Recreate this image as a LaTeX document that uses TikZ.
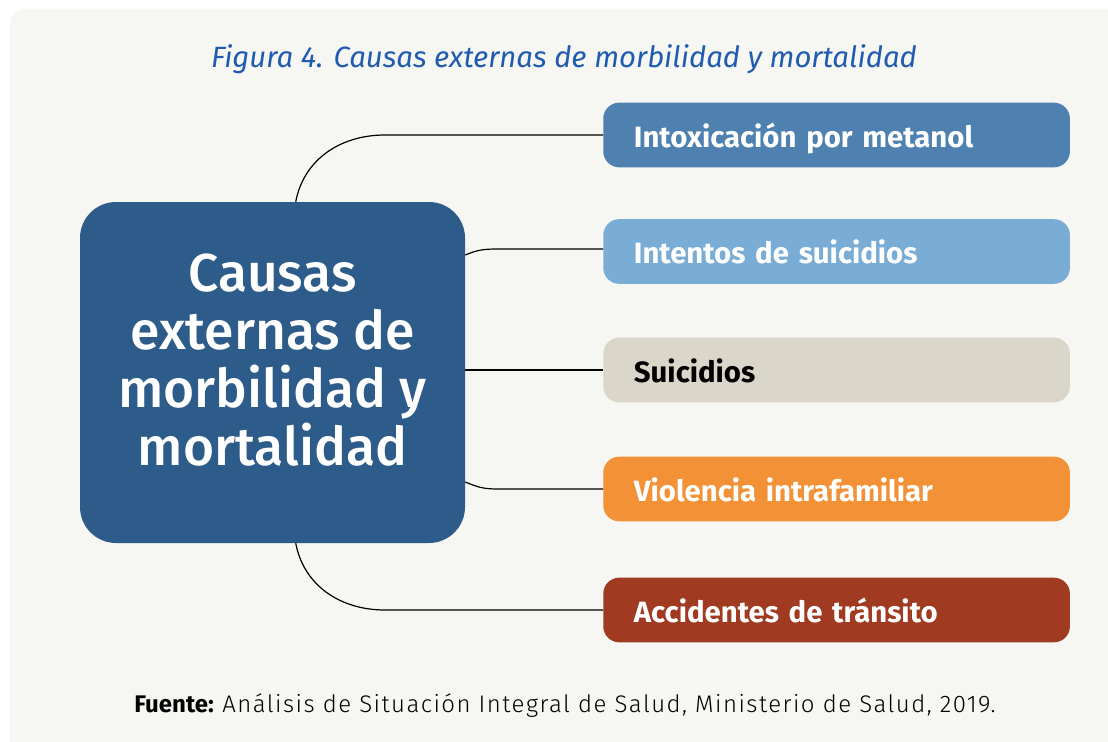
\documentclass[tikz,border=0pt]{standalone}
\usepackage{fontspec}
\setmainfont{Fira Sans}
\newfontfamily\lightfont[LetterSpace=6]{Fira Sans Light}
\newfontfamily\mediumfont{Fira Sans Medium}
\usetikzlibrary{calc}
\definecolor{panel}{HTML}{F6F6F2}
\definecolor{titleblue}{HTML}{1F5BB0}
\definecolor{mainblue}{HTML}{2E5C8A}
\definecolor{cA}{HTML}{4F81B0}
\definecolor{cB}{HTML}{79ADD6}
\definecolor{cC}{HTML}{DAD6CA}
\definecolor{cD}{HTML}{F29135}
\definecolor{cE}{HTML}{A03B22}
\tikzset{
  catbox/.style={draw=none, rounded corners=12pt, minimum height=48.5pt, minimum width=350pt,
    text width=304pt, inner xsep=23pt, text height=20.5pt, text depth=1.8pt, align=left, anchor=west, font=\fontsize{22}{26}\selectfont\bfseries, text=white},
  link/.style={draw=black, line width=0.9pt},
}
\begin{document}
\begin{tikzpicture}[x=0.75pt,y=-0.75pt]
\useasboundingbox (0,0) rectangle (1108,742);
\begin{scope}
\clip (0,0) rectangle (1108,742);
\fill[white] (0,0) rectangle (1108,742);
\fill[panel, rounded corners=11pt] (10,9) rectangle (1130,770);
\end{scope}
\node[text=titleblue, font=\fontsize{22}{26}\selectfont\itshape] (title) at (564,59) {Figura 4. Causas externas de morbilidad y mortalidad};
\node[fill=mainblue, rounded corners=27pt, minimum width=288.75pt, minimum height=255.75pt, inner sep=0pt] (m) at (272.5,372.5) {};
\node[text=white, align=center, font=\fontsize{40}{43.5}\selectfont\mediumfont] (mt) at (272.5,360) {Causas\\externas de\\morbilidad y\\mortalidad};
\node[catbox, fill=cA] (b1) at (603,135) {Intoxicación por metanol};
\node[catbox, fill=cB] (b2) at (603,251.5) {Intentos de suicidios};
\node[catbox, fill=cC, text=black] (b3) at (603,370) {Suicidios};
\node[catbox, fill=cD] (b4) at (603,489) {Violencia intrafamiliar};
\node[catbox, fill=cE] (b5) at (603,610) {Accidentes de tránsito};
\draw[link] ($(m.north west)+(216,0)$) .. controls +(8,-42) and +(-45,0) .. ($(b1.west)+(-218,0)$) -- (b1.west);
\draw[link] ($(m.east)+(0,-117.5)$) .. controls +(12,-5) and +(-15,0) .. ($(b2.west)+(-105,-2.5)$) -- ($(b2.west)+(0,-2.5)$);
\draw[link] (m.east |- b3.west) -- (b3.west);
\draw[link] ($(m.east)+(0,109.5)$) .. controls +(12,5) and +(-15,0) .. ($(b4.west)+(-105,0)$) -- (b4.west);
\draw[link] ($(m.south west)+(216,0)$) .. controls +(8,42) and +(-45,0) .. ($(b5.west)+(-218,0)$) -- (b5.west);
\node[font=\fontsize{18}{21}\selectfont] (src) at (565,706) {\textbf{Fuente:} {\lightfont Análisis de Situación Integral de Salud, Ministerio de Salud, 2019.}};
\end{tikzpicture}
\end{document}
